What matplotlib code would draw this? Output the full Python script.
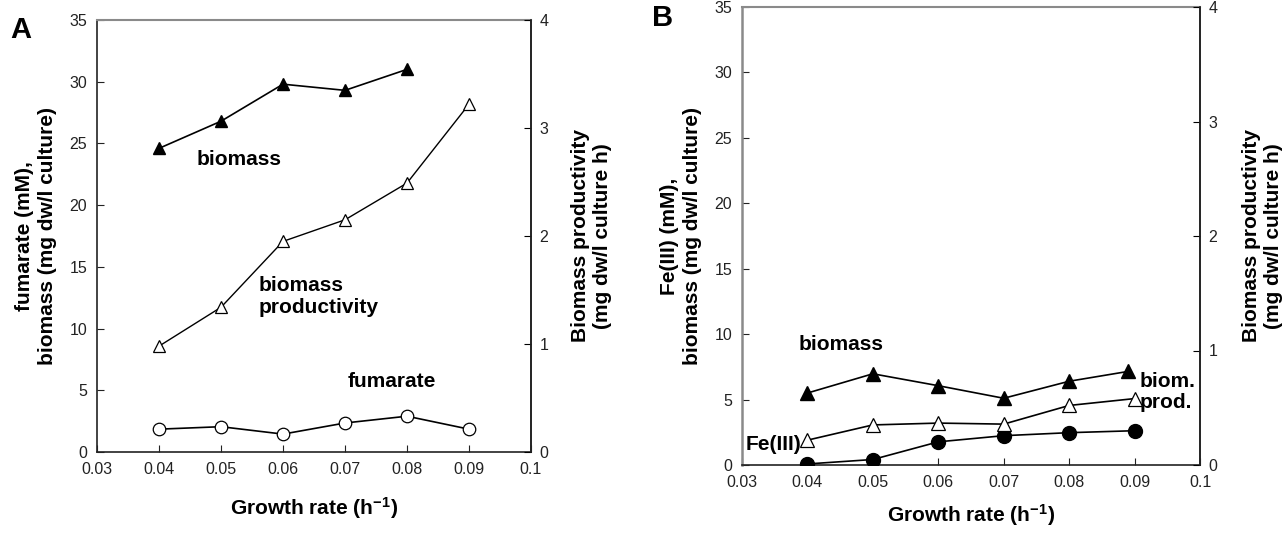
import matplotlib
matplotlib.use("Agg")
import matplotlib.pyplot as plt

plt.rcParams['font.family'] = ['Liberation Sans', 'DejaVu Sans']
plt.rcParams['mathtext.default'] = 'regular'

# ---- data ----
growth_rate = [0.04, 0.05, 0.06, 0.07, 0.08, 0.09]

# Panel A
a_biomass_x = [0.04, 0.05, 0.06, 0.07, 0.08]
a_biomass = [24.6, 26.8, 29.8, 29.3, 31.0]
a_fumarate = [1.85, 2.05, 1.45, 2.35, 2.9, 1.85]
a_productivity = [0.98, 1.34, 1.95, 2.15, 2.49, 3.22]

# Panel B
b_biomass_x = [0.04, 0.05, 0.06, 0.07, 0.08, 0.089]
b_biomass = [5.5, 6.97, 6.06, 5.1, 6.4, 7.15]
b_fe3 = [0.08, 0.42, 1.77, 2.24, 2.47, 2.62]
b_productivity = [0.217, 0.35, 0.366, 0.357, 0.52, 0.58]

x_ticks = [0.03, 0.04, 0.05, 0.06, 0.07, 0.08, 0.09, 0.1]
x_ticklabels = ['0.03', '0.04', '0.05', '0.06', '0.07', '0.08', '0.09', '0.1']
left_ticks = [0, 5, 10, 15, 20, 25, 30, 35]
right_ticks = [0, 1, 2, 3, 4]

fig = plt.figure(figsize=(12.87, 5.33), dpi=100)

axA = fig.add_axes([97/1287, 1-452/533, 434/1287, 432/533])
axB = fig.add_axes([742/1287, 1-465/533, 458/1287, 458/533])

LBL = 15
TCK = 11.5
tick_col = '#222222'


def style(ax, left_gray, xlabelpad):
    ax.set_xlim(0.03, 0.1)
    ax.set_ylim(0, 35)
    ax.set_xticks(x_ticks)
    ax.set_xticklabels(x_ticklabels)
    ax.set_yticks(left_ticks)
    ax.tick_params(axis='both', direction='in', length=5, width=0.8,
                   labelsize=TCK, labelcolor=tick_col, color='#222222')
    ax.tick_params(axis='x', pad=7)
    ax.tick_params(axis='y', pad=7)
    ax.spines['top'].set_color('#8a8a8a')
    ax.spines['top'].set_linewidth(1.5)
    ax.spines['bottom'].set_color('#222222')
    ax.spines['bottom'].set_linewidth(1.2)
    if left_gray:
        ax.spines['left'].set_color('#8a8a8a')
        ax.spines['left'].set_linewidth(1.8)
    else:
        ax.spines['left'].set_color('#222222')
        ax.spines['left'].set_linewidth(1.2)
    ax.spines['right'].set_color('#222222')
    ax.spines['right'].set_linewidth(1.2)
    ax.set_xlabel(r'Growth rate (h$^{-1}$)', fontsize=LBL, fontweight='bold',
                  labelpad=xlabelpad)


def style_right(ax2):
    ax2.set_ylim(0, 4)
    ax2.set_yticks(right_ticks)
    ax2.tick_params(axis='y', direction='in', length=5, width=0.8,
                    labelsize=TCK, labelcolor=tick_col, pad=6)
    for s in ['top', 'left', 'bottom']:
        ax2.spines[s].set_visible(False)
    ax2.spines['right'].set_color('#222222')
    ax2.spines['right'].set_linewidth(1.2)


# ---- Panel A ----
style(axA, left_gray=False, xlabelpad=13)
axA2 = axA.twinx()
style_right(axA2)

axA.plot(a_biomass_x, a_biomass, color='black', lw=1.2, marker='^', ms=9,
         mfc='black', mec='black', zorder=3)
axA.plot(growth_rate, a_fumarate, color='black', lw=1.2, marker='o', ms=9,
         mfc='white', mec='black', mew=0.9, zorder=3)
axA2.plot(growth_rate, a_productivity, color='black', lw=1.0, marker='^', ms=9,
          mfc='white', mec='black', mew=0.9, zorder=3)

axA.set_ylabel('fumarate (mM),\nbiomass (mg dw/l culture)', fontsize=LBL,
               fontweight='bold', labelpad=9, linespacing=1.25)
axA2.set_ylabel('Biomass productivity\n(mg dw/l culture h)', fontsize=LBL,
                fontweight='bold', labelpad=16, linespacing=1.25, rotation=90)

axA.text(0.0461, 23.7, 'biomass', fontsize=LBL, fontweight='bold', va='center', ha='left')
axA.text(0.0561, 12.6, 'biomass\nproductivity', fontsize=LBL, fontweight='bold',
         va='center', ha='left', linespacing=1.15)
axA.text(0.0705, 5.7, 'fumarate', fontsize=LBL, fontweight='bold', va='center', ha='left')

fig.text(10/1287, 1-30/533, 'A', fontsize=21, fontweight='bold', va='center', ha='left')

# ---- Panel B ----
style(axB, left_gray=True, xlabelpad=9)
axB2 = axB.twinx()
style_right(axB2)

axB.plot(b_biomass_x, b_biomass, color='black', lw=1.2, marker='^', ms=9.5,
         mfc='black', mec='black', zorder=3)
axB.plot(growth_rate, b_fe3, color='black', lw=1.2, marker='o', ms=10,
         mfc='black', mec='black', zorder=3)
axB2.plot(growth_rate, b_productivity, color='black', lw=1.2, marker='^', ms=9.5,
          mfc='white', mec='black', mew=0.9, zorder=3)

axB.set_ylabel('Fe(III) (mM),\nbiomass (mg dw/l culture)', fontsize=LBL,
               fontweight='bold', labelpad=9, linespacing=1.25)
axB2.set_ylabel('Biomass productivity\n(mg dw/l culture h)', fontsize=LBL,
                fontweight='bold', labelpad=18, linespacing=1.15, rotation=90)

axB.text(0.0386, 9.2, 'biomass', fontsize=LBL, fontweight='bold', va='center', ha='left')
axB.text(0.0306, 1.55, 'Fe(III)', fontsize=LBL, fontweight='bold', va='center', ha='left',
         bbox=dict(facecolor='white', edgecolor='none', pad=0.5), zorder=2)
axB.text(0.0908, 5.6, 'biom.\nprod.', fontsize=LBL, fontweight='bold', va='center',
         ha='left', linespacing=1.15)

fig.text(652/1287, 1-18/533, 'B', fontsize=21, fontweight='bold', va='center', ha='left')

fig.savefig('out.png', dpi=100)
